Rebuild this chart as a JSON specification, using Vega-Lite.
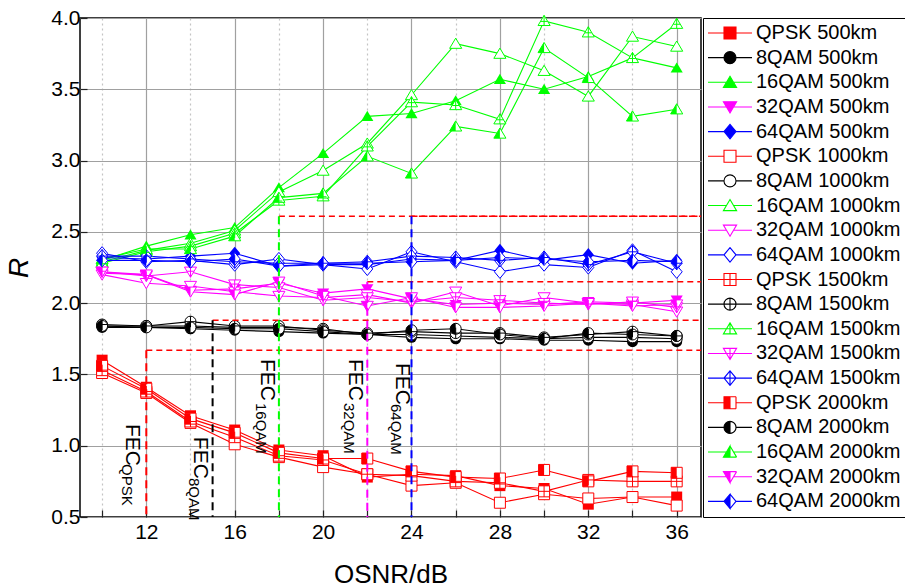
{
"$schema":"https://vega.github.io/schema/vega-lite/v6.json",
"padding":{"left":5,"top":7,"right":0,"bottom":0},
"background":"white",
"config":{"view":{"stroke":"#000000","strokeWidth":1.5},"font":"Liberation Sans",
 "legend":{"orient":"right","offset":2,"padding":5,"rowPadding":4.65,"labelFont":"Liberation Sans","labelFontSize":20,"labelColor":"#000000","labelOffset":16,"symbolOffset":12,"symbolSize":144,"symbolStrokeWidth":1.1,"symbolOpacity":1,"symbolFillColor":"#ffffff","strokeColor":"#000000","fillColor":"#ffffff","labelLimit":400}},
"datasets":{
"pts":[
{"mod":"QPSK","dist":500,"x":10,"R":1.60},{"mod":"QPSK","dist":500,"x":12,"R":1.41},{"mod":"QPSK","dist":500,"x":14,"R":1.21},{"mod":"QPSK","dist":500,"x":16,"R":1.11},{"mod":"QPSK","dist":500,"x":18,"R":0.97},{"mod":"QPSK","dist":500,"x":20,"R":0.93},{"mod":"QPSK","dist":500,"x":22,"R":0.78},{"mod":"QPSK","dist":500,"x":24,"R":0.80},{"mod":"QPSK","dist":500,"x":26,"R":0.79},{"mod":"QPSK","dist":500,"x":28,"R":0.72},{"mod":"QPSK","dist":500,"x":30,"R":0.70},{"mod":"QPSK","dist":500,"x":32,"R":0.59},{"mod":"QPSK","dist":500,"x":34,"R":0.64},{"mod":"QPSK","dist":500,"x":36,"R":0.64},
{"mod":"QPSK","dist":1000,"x":10,"R":1.51},{"mod":"QPSK","dist":1000,"x":12,"R":1.37},{"mod":"QPSK","dist":1000,"x":14,"R":1.16},{"mod":"QPSK","dist":1000,"x":16,"R":1.01},{"mod":"QPSK","dist":1000,"x":18,"R":0.92},{"mod":"QPSK","dist":1000,"x":20,"R":0.85},{"mod":"QPSK","dist":1000,"x":22,"R":0.80},{"mod":"QPSK","dist":1000,"x":24,"R":0.72},{"mod":"QPSK","dist":1000,"x":26,"R":0.74},{"mod":"QPSK","dist":1000,"x":28,"R":0.60},{"mod":"QPSK","dist":1000,"x":30,"R":0.66},{"mod":"QPSK","dist":1000,"x":32,"R":0.63},{"mod":"QPSK","dist":1000,"x":34,"R":0.64},{"mod":"QPSK","dist":1000,"x":36,"R":0.58},
{"mod":"QPSK","dist":1500,"x":10,"R":1.53},{"mod":"QPSK","dist":1500,"x":12,"R":1.38},{"mod":"QPSK","dist":1500,"x":14,"R":1.17},{"mod":"QPSK","dist":1500,"x":16,"R":1.06},{"mod":"QPSK","dist":1500,"x":18,"R":0.93},{"mod":"QPSK","dist":1500,"x":20,"R":0.90},{"mod":"QPSK","dist":1500,"x":22,"R":0.80},{"mod":"QPSK","dist":1500,"x":24,"R":0.79},{"mod":"QPSK","dist":1500,"x":26,"R":0.75},{"mod":"QPSK","dist":1500,"x":28,"R":0.74},{"mod":"QPSK","dist":1500,"x":30,"R":0.68},{"mod":"QPSK","dist":1500,"x":32,"R":0.76},{"mod":"QPSK","dist":1500,"x":34,"R":0.75},{"mod":"QPSK","dist":1500,"x":36,"R":0.75},
{"mod":"QPSK","dist":2000,"x":10,"R":1.56},{"mod":"QPSK","dist":2000,"x":12,"R":1.40},{"mod":"QPSK","dist":2000,"x":14,"R":1.19},{"mod":"QPSK","dist":2000,"x":16,"R":1.09},{"mod":"QPSK","dist":2000,"x":18,"R":0.95},{"mod":"QPSK","dist":2000,"x":20,"R":0.91},{"mod":"QPSK","dist":2000,"x":22,"R":0.91},{"mod":"QPSK","dist":2000,"x":24,"R":0.82},{"mod":"QPSK","dist":2000,"x":26,"R":0.78},{"mod":"QPSK","dist":2000,"x":28,"R":0.77},{"mod":"QPSK","dist":2000,"x":30,"R":0.83},{"mod":"QPSK","dist":2000,"x":32,"R":0.75},{"mod":"QPSK","dist":2000,"x":34,"R":0.82},{"mod":"QPSK","dist":2000,"x":36,"R":0.81},
{"mod":"8QAM","dist":500,"x":10,"R":1.83},{"mod":"8QAM","dist":500,"x":12,"R":1.83},{"mod":"8QAM","dist":500,"x":14,"R":1.82},{"mod":"8QAM","dist":500,"x":16,"R":1.81},{"mod":"8QAM","dist":500,"x":18,"R":1.80},{"mod":"8QAM","dist":500,"x":20,"R":1.79},{"mod":"8QAM","dist":500,"x":22,"R":1.78},{"mod":"8QAM","dist":500,"x":24,"R":1.76},{"mod":"8QAM","dist":500,"x":26,"R":1.75},{"mod":"8QAM","dist":500,"x":28,"R":1.75},{"mod":"8QAM","dist":500,"x":30,"R":1.74},{"mod":"8QAM","dist":500,"x":32,"R":1.74},{"mod":"8QAM","dist":500,"x":34,"R":1.73},{"mod":"8QAM","dist":500,"x":36,"R":1.73},
{"mod":"8QAM","dist":1000,"x":10,"R":1.84},{"mod":"8QAM","dist":1000,"x":12,"R":1.84},{"mod":"8QAM","dist":1000,"x":14,"R":1.84},{"mod":"8QAM","dist":1000,"x":16,"R":1.83},{"mod":"8QAM","dist":1000,"x":18,"R":1.83},{"mod":"8QAM","dist":1000,"x":20,"R":1.82},{"mod":"8QAM","dist":1000,"x":22,"R":1.78},{"mod":"8QAM","dist":1000,"x":24,"R":1.78},{"mod":"8QAM","dist":1000,"x":26,"R":1.77},{"mod":"8QAM","dist":1000,"x":28,"R":1.76},{"mod":"8QAM","dist":1000,"x":30,"R":1.75},{"mod":"8QAM","dist":1000,"x":32,"R":1.76},{"mod":"8QAM","dist":1000,"x":34,"R":1.76},{"mod":"8QAM","dist":1000,"x":36,"R":1.75},
{"mod":"8QAM","dist":1500,"x":10,"R":1.85},{"mod":"8QAM","dist":1500,"x":12,"R":1.84},{"mod":"8QAM","dist":1500,"x":14,"R":1.87},{"mod":"8QAM","dist":1500,"x":16,"R":1.84},{"mod":"8QAM","dist":1500,"x":18,"R":1.84},{"mod":"8QAM","dist":1500,"x":20,"R":1.81},{"mod":"8QAM","dist":1500,"x":22,"R":1.79},{"mod":"8QAM","dist":1500,"x":24,"R":1.80},{"mod":"8QAM","dist":1500,"x":26,"R":1.79},{"mod":"8QAM","dist":1500,"x":28,"R":1.79},{"mod":"8QAM","dist":1500,"x":30,"R":1.76},{"mod":"8QAM","dist":1500,"x":32,"R":1.78},{"mod":"8QAM","dist":1500,"x":34,"R":1.80},{"mod":"8QAM","dist":1500,"x":36,"R":1.77},
{"mod":"8QAM","dist":2000,"x":10,"R":1.84},{"mod":"8QAM","dist":2000,"x":12,"R":1.83},{"mod":"8QAM","dist":2000,"x":14,"R":1.83},{"mod":"8QAM","dist":2000,"x":16,"R":1.82},{"mod":"8QAM","dist":2000,"x":18,"R":1.82},{"mod":"8QAM","dist":2000,"x":20,"R":1.80},{"mod":"8QAM","dist":2000,"x":22,"R":1.78},{"mod":"8QAM","dist":2000,"x":24,"R":1.81},{"mod":"8QAM","dist":2000,"x":26,"R":1.82},{"mod":"8QAM","dist":2000,"x":28,"R":1.78},{"mod":"8QAM","dist":2000,"x":30,"R":1.75},{"mod":"8QAM","dist":2000,"x":32,"R":1.79},{"mod":"8QAM","dist":2000,"x":34,"R":1.78},{"mod":"8QAM","dist":2000,"x":36,"R":1.77},
{"mod":"16QAM","dist":500,"x":10,"R":2.30},{"mod":"16QAM","dist":500,"x":12,"R":2.40},{"mod":"16QAM","dist":500,"x":14,"R":2.48},{"mod":"16QAM","dist":500,"x":16,"R":2.53},{"mod":"16QAM","dist":500,"x":18,"R":2.81},{"mod":"16QAM","dist":500,"x":20,"R":3.05},{"mod":"16QAM","dist":500,"x":22,"R":3.31},{"mod":"16QAM","dist":500,"x":24,"R":3.33},{"mod":"16QAM","dist":500,"x":26,"R":3.42},{"mod":"16QAM","dist":500,"x":28,"R":3.57},{"mod":"16QAM","dist":500,"x":30,"R":3.50},{"mod":"16QAM","dist":500,"x":32,"R":3.59},{"mod":"16QAM","dist":500,"x":34,"R":3.72},{"mod":"16QAM","dist":500,"x":36,"R":3.65},
{"mod":"16QAM","dist":1000,"x":10,"R":2.29},{"mod":"16QAM","dist":1000,"x":12,"R":2.37},{"mod":"16QAM","dist":1000,"x":14,"R":2.42},{"mod":"16QAM","dist":1000,"x":16,"R":2.51},{"mod":"16QAM","dist":1000,"x":18,"R":2.78},{"mod":"16QAM","dist":1000,"x":20,"R":2.93},{"mod":"16QAM","dist":1000,"x":22,"R":3.12},{"mod":"16QAM","dist":1000,"x":24,"R":3.46},{"mod":"16QAM","dist":1000,"x":26,"R":3.82},{"mod":"16QAM","dist":1000,"x":28,"R":3.75},{"mod":"16QAM","dist":1000,"x":30,"R":3.63},{"mod":"16QAM","dist":1000,"x":32,"R":3.45},{"mod":"16QAM","dist":1000,"x":34,"R":3.87},{"mod":"16QAM","dist":1000,"x":36,"R":3.80},
{"mod":"16QAM","dist":1500,"x":10,"R":2.28},{"mod":"16QAM","dist":1500,"x":12,"R":2.36},{"mod":"16QAM","dist":1500,"x":14,"R":2.40},{"mod":"16QAM","dist":1500,"x":16,"R":2.49},{"mod":"16QAM","dist":1500,"x":18,"R":2.72},{"mod":"16QAM","dist":1500,"x":20,"R":2.75},{"mod":"16QAM","dist":1500,"x":22,"R":3.10},{"mod":"16QAM","dist":1500,"x":24,"R":3.41},{"mod":"16QAM","dist":1500,"x":26,"R":3.39},{"mod":"16QAM","dist":1500,"x":28,"R":3.29},{"mod":"16QAM","dist":1500,"x":30,"R":3.98},{"mod":"16QAM","dist":1500,"x":32,"R":3.90},{"mod":"16QAM","dist":1500,"x":34,"R":3.72},{"mod":"16QAM","dist":1500,"x":36,"R":3.96},
{"mod":"16QAM","dist":2000,"x":10,"R":2.31},{"mod":"16QAM","dist":2000,"x":12,"R":2.38},{"mod":"16QAM","dist":2000,"x":14,"R":2.38},{"mod":"16QAM","dist":2000,"x":16,"R":2.47},{"mod":"16QAM","dist":2000,"x":18,"R":2.74},{"mod":"16QAM","dist":2000,"x":20,"R":2.77},{"mod":"16QAM","dist":2000,"x":22,"R":3.03},{"mod":"16QAM","dist":2000,"x":24,"R":2.91},{"mod":"16QAM","dist":2000,"x":26,"R":3.24},{"mod":"16QAM","dist":2000,"x":28,"R":3.19},{"mod":"16QAM","dist":2000,"x":30,"R":3.79},{"mod":"16QAM","dist":2000,"x":32,"R":3.58},{"mod":"16QAM","dist":2000,"x":34,"R":3.31},{"mod":"16QAM","dist":2000,"x":36,"R":3.36},
{"mod":"32QAM","dist":500,"x":10,"R":2.21},{"mod":"32QAM","dist":500,"x":12,"R":2.20},{"mod":"32QAM","dist":500,"x":14,"R":2.09},{"mod":"32QAM","dist":500,"x":16,"R":2.10},{"mod":"32QAM","dist":500,"x":18,"R":2.14},{"mod":"32QAM","dist":500,"x":20,"R":2.07},{"mod":"32QAM","dist":500,"x":22,"R":2.10},{"mod":"32QAM","dist":500,"x":24,"R":2.03},{"mod":"32QAM","dist":500,"x":26,"R":1.99},{"mod":"32QAM","dist":500,"x":28,"R":2.00},{"mod":"32QAM","dist":500,"x":30,"R":1.99},{"mod":"32QAM","dist":500,"x":32,"R":2.01},{"mod":"32QAM","dist":500,"x":34,"R":2.00},{"mod":"32QAM","dist":500,"x":36,"R":2.02},
{"mod":"32QAM","dist":1000,"x":10,"R":2.20},{"mod":"32QAM","dist":1000,"x":12,"R":2.14},{"mod":"32QAM","dist":1000,"x":14,"R":2.12},{"mod":"32QAM","dist":1000,"x":16,"R":2.08},{"mod":"32QAM","dist":1000,"x":18,"R":2.05},{"mod":"32QAM","dist":1000,"x":20,"R":2.04},{"mod":"32QAM","dist":1000,"x":22,"R":2.06},{"mod":"32QAM","dist":1000,"x":24,"R":2.00},{"mod":"32QAM","dist":1000,"x":26,"R":2.08},{"mod":"32QAM","dist":1000,"x":28,"R":1.98},{"mod":"32QAM","dist":1000,"x":30,"R":2.04},{"mod":"32QAM","dist":1000,"x":32,"R":2.00},{"mod":"32QAM","dist":1000,"x":34,"R":1.99},{"mod":"32QAM","dist":1000,"x":36,"R":1.94},
{"mod":"32QAM","dist":1500,"x":10,"R":2.22},{"mod":"32QAM","dist":1500,"x":12,"R":2.19},{"mod":"32QAM","dist":1500,"x":14,"R":2.22},{"mod":"32QAM","dist":1500,"x":16,"R":2.13},{"mod":"32QAM","dist":1500,"x":18,"R":2.11},{"mod":"32QAM","dist":1500,"x":20,"R":2.02},{"mod":"32QAM","dist":1500,"x":22,"R":2.04},{"mod":"32QAM","dist":1500,"x":24,"R":2.01},{"mod":"32QAM","dist":1500,"x":26,"R":2.04},{"mod":"32QAM","dist":1500,"x":28,"R":2.02},{"mod":"32QAM","dist":1500,"x":30,"R":2.00},{"mod":"32QAM","dist":1500,"x":32,"R":1.99},{"mod":"32QAM","dist":1500,"x":34,"R":2.01},{"mod":"32QAM","dist":1500,"x":36,"R":1.97},
{"mod":"32QAM","dist":2000,"x":10,"R":2.22},{"mod":"32QAM","dist":2000,"x":12,"R":2.20},{"mod":"32QAM","dist":2000,"x":14,"R":2.08},{"mod":"32QAM","dist":2000,"x":16,"R":2.06},{"mod":"32QAM","dist":2000,"x":18,"R":2.15},{"mod":"32QAM","dist":2000,"x":20,"R":2.05},{"mod":"32QAM","dist":2000,"x":22,"R":1.98},{"mod":"32QAM","dist":2000,"x":24,"R":2.04},{"mod":"32QAM","dist":2000,"x":26,"R":1.97},{"mod":"32QAM","dist":2000,"x":28,"R":1.97},{"mod":"32QAM","dist":2000,"x":30,"R":1.98},{"mod":"32QAM","dist":2000,"x":32,"R":2.00},{"mod":"32QAM","dist":2000,"x":34,"R":1.98},{"mod":"32QAM","dist":2000,"x":36,"R":1.99},
{"mod":"64QAM","dist":500,"x":10,"R":2.32},{"mod":"64QAM","dist":500,"x":12,"R":2.31},{"mod":"64QAM","dist":500,"x":14,"R":2.33},{"mod":"64QAM","dist":500,"x":16,"R":2.35},{"mod":"64QAM","dist":500,"x":18,"R":2.26},{"mod":"64QAM","dist":500,"x":20,"R":2.27},{"mod":"64QAM","dist":500,"x":22,"R":2.27},{"mod":"64QAM","dist":500,"x":24,"R":2.31},{"mod":"64QAM","dist":500,"x":26,"R":2.30},{"mod":"64QAM","dist":500,"x":28,"R":2.37},{"mod":"64QAM","dist":500,"x":30,"R":2.30},{"mod":"64QAM","dist":500,"x":32,"R":2.34},{"mod":"64QAM","dist":500,"x":34,"R":2.28},{"mod":"64QAM","dist":500,"x":36,"R":2.30},
{"mod":"64QAM","dist":1000,"x":10,"R":2.35},{"mod":"64QAM","dist":1000,"x":12,"R":2.29},{"mod":"64QAM","dist":1000,"x":14,"R":2.30},{"mod":"64QAM","dist":1000,"x":16,"R":2.27},{"mod":"64QAM","dist":1000,"x":18,"R":2.31},{"mod":"64QAM","dist":1000,"x":20,"R":2.27},{"mod":"64QAM","dist":1000,"x":22,"R":2.24},{"mod":"64QAM","dist":1000,"x":24,"R":2.36},{"mod":"64QAM","dist":1000,"x":26,"R":2.29},{"mod":"64QAM","dist":1000,"x":28,"R":2.22},{"mod":"64QAM","dist":1000,"x":30,"R":2.27},{"mod":"64QAM","dist":1000,"x":32,"R":2.25},{"mod":"64QAM","dist":1000,"x":34,"R":2.37},{"mod":"64QAM","dist":1000,"x":36,"R":2.22},
{"mod":"64QAM","dist":1500,"x":10,"R":2.33},{"mod":"64QAM","dist":1500,"x":12,"R":2.33},{"mod":"64QAM","dist":1500,"x":14,"R":2.31},{"mod":"64QAM","dist":1500,"x":16,"R":2.29},{"mod":"64QAM","dist":1500,"x":18,"R":2.28},{"mod":"64QAM","dist":1500,"x":20,"R":2.28},{"mod":"64QAM","dist":1500,"x":22,"R":2.29},{"mod":"64QAM","dist":1500,"x":24,"R":2.33},{"mod":"64QAM","dist":1500,"x":26,"R":2.32},{"mod":"64QAM","dist":1500,"x":28,"R":2.30},{"mod":"64QAM","dist":1500,"x":30,"R":2.32},{"mod":"64QAM","dist":1500,"x":32,"R":2.27},{"mod":"64QAM","dist":1500,"x":34,"R":2.36},{"mod":"64QAM","dist":1500,"x":36,"R":2.28},
{"mod":"64QAM","dist":2000,"x":10,"R":2.30},{"mod":"64QAM","dist":2000,"x":12,"R":2.30},{"mod":"64QAM","dist":2000,"x":14,"R":2.29},{"mod":"64QAM","dist":2000,"x":16,"R":2.31},{"mod":"64QAM","dist":2000,"x":18,"R":2.26},{"mod":"64QAM","dist":2000,"x":20,"R":2.28},{"mod":"64QAM","dist":2000,"x":22,"R":2.28},{"mod":"64QAM","dist":2000,"x":24,"R":2.29},{"mod":"64QAM","dist":2000,"x":26,"R":2.30},{"mod":"64QAM","dist":2000,"x":28,"R":2.32},{"mod":"64QAM","dist":2000,"x":30,"R":2.31},{"mod":"64QAM","dist":2000,"x":32,"R":2.29},{"mod":"64QAM","dist":2000,"x":34,"R":2.30},{"mod":"64QAM","dist":2000,"x":36,"R":2.29}
],
"fec":[{"mod":"QPSK","x":12,"thr":1.67},{"mod":"8QAM","x":15,"thr":1.88},{"mod":"16QAM","x":18,"thr":2.61},{"mod":"32QAM","x":22,"thr":2.15},{"mod":"64QAM","x":24,"thr":2.61}],
"fect":[
{"main":"FEC","sub":"QPSK","mx":11.08,"my":1.153,"sx":10.9,"sy":0.872},
{"main":"FEC","sub":"8QAM","mx":14.15,"my":1.062,"sx":13.93,"sy":0.774},
{"main":"FEC","sub":"16QAM","mx":17.18,"my":1.609,"sx":16.96,"sy":1.3},
{"main":"FEC","sub":"32QAM","mx":21.16,"my":1.609,"sx":20.93,"sy":1.3},
{"main":"FEC","sub":"64QAM","mx":23.29,"my":1.581,"sx":23.06,"sy":1.293}],
"leg":[
{"idx":1,"label":"QPSK 500km"},{"idx":2,"label":"8QAM 500km"},{"idx":3,"label":"16QAM 500km"},{"idx":4,"label":"32QAM 500km"},{"idx":5,"label":"64QAM 500km"},
{"idx":6,"label":"QPSK 1000km"},{"idx":7,"label":"8QAM 1000km"},{"idx":8,"label":"16QAM 1000km"},{"idx":9,"label":"32QAM 1000km"},{"idx":10,"label":"64QAM 1000km"},
{"idx":11,"label":"QPSK 1500km"},{"idx":12,"label":"8QAM 1500km"},{"idx":13,"label":"16QAM 1500km"},{"idx":14,"label":"32QAM 1500km"},{"idx":15,"label":"64QAM 1500km"},
{"idx":16,"label":"QPSK 2000km"},{"idx":17,"label":"8QAM 2000km"},{"idx":18,"label":"16QAM 2000km"},{"idx":19,"label":"32QAM 2000km"},{"idx":20,"label":"64QAM 2000km"}]
},
"width":621,"height":499,
"data":{"name":"pts"},
"layer":[
{"mark":{"type":"line","strokeWidth":1.1},
 "encoding":{
  "x":{"field":"x","type":"quantitative","scale":{"domain":[9,37.1],"nice":false,"zero":false},
   "axis":{"title":"OSNR/dB","values":[10,12,14,16,18,20,22,24,26,28,30,32,34,36],
    "labelExpr":"datum.value % 4 == 0 ? datum.label : ''","labelOverlap":false,"labelFlush":false,
    "labelFont":"Liberation Sans","labelFontSize":21,"labelColor":"#000000","labelPadding":11,
    "ticks":true,"tickSize":-7,"tickColor":"#222222","tickWidth":1.2,"domain":false,
    "grid":true,"gridWidth":1.2,
    "gridColor":{"condition":{"test":"datum.value % 4 == 0","value":"#a0a0a0"},"value":"#c4c4c4"},
    "gridDash":{"condition":{"test":"datum.value % 4 == 0","value":[]},"value":[2,3]},
    "titleFont":"Liberation Sans","titleFontSize":26,"titleFontWeight":"normal","titleColor":"#000000","titlePadding":19}},
  "y":{"field":"R","type":"quantitative","scale":{"domain":[0.5,4.0],"nice":false,"zero":false},
   "axis":{"title":"R","values":[0.5,0.75,1,1.25,1.5,1.75,2,2.25,2.5,2.75,3,3.25,3.5,3.75,4],
    "labelExpr":"abs(datum.value*2-round(datum.value*2)) < 0.01 ? format(datum.value, '.1f') : ''","labelOverlap":false,"labelFlush":false,
    "labelFont":"Liberation Sans","labelFontSize":21,"labelColor":"#000000","labelPadding":7,
    "ticks":true,"tickSize":-7,"tickColor":"#222222","tickWidth":1.2,"domain":false,
    "grid":true,"gridWidth":1.2,
    "gridColor":{"condition":{"test":"abs(datum.value*2-round(datum.value*2)) < 0.01","value":"#a0a0a0"},"value":"#c4c4c4"},
    "gridDash":{"condition":{"test":"abs(datum.value*2-round(datum.value*2)) < 0.01","value":[]},"value":[2,3]},
    "titleFont":"Liberation Sans","titleFontSize":28,"titleFontWeight":"normal","titleFontStyle":"italic","titleColor":"#000000","titlePadding":17}},
  "color":{"field":"mod","type":"nominal","scale":{"domain":["QPSK","8QAM","16QAM","32QAM","64QAM"],"range":["#ff0000","#000000","#00ff00","#ff00ff","#0000ff"]},"legend":null},
  "detail":{"field":"dist","type":"nominal"},
  "order":{"field":"x","type":"quantitative"}
 }},
{"transform":[{"filter":"datum.dist == 500"}],
 "mark":{"type":"point","filled":true,"size":121,"opacity":1},
 "encoding":{"x":{"field":"x","type":"quantitative"},"y":{"field":"R","type":"quantitative"},
  "color":{"field":"mod","type":"nominal","legend":null},
  "shape":{"condition":[{"test":"datum.mod == 'QPSK'","value":"M-1,-1H1V1H-1Z"},{"test":"datum.mod == '8QAM'","value":"circle"},{"test":"datum.mod == '16QAM'","value":"M0,-1L1.1,0.85H-1.1Z"},{"test":"datum.mod == '32QAM'","value":"M0,1L1.1,-0.85H-1.1Z"}],"value":"M0,-1.2L1,0L0,1.2L-1,0Z"}}},
{"transform":[{"filter":"datum.dist != 500"}],
 "mark":{"type":"point","filled":false,"fill":"#ffffff","size":121,"opacity":1,"strokeWidth":1},
 "encoding":{"x":{"field":"x","type":"quantitative"},"y":{"field":"R","type":"quantitative"},
  "color":{"field":"mod","type":"nominal","legend":null},
  "shape":{"condition":[{"test":"datum.mod == 'QPSK'","value":"M-1,-1H1V1H-1Z"},{"test":"datum.mod == '8QAM'","value":"circle"},{"test":"datum.mod == '16QAM'","value":"M0,-1L1.1,0.85H-1.1Z"},{"test":"datum.mod == '32QAM'","value":"M0,1L1.1,-0.85H-1.1Z"}],"value":"M0,-1.2L1,0L0,1.2L-1,0Z"}}},
{"transform":[{"filter":"datum.dist == 1500"}],
 "mark":{"type":"point","filled":false,"size":121,"opacity":1,"strokeWidth":1},
 "encoding":{"x":{"field":"x","type":"quantitative"},"y":{"field":"R","type":"quantitative"},
  "color":{"field":"mod","type":"nominal","legend":null},
  "shape":{"condition":[{"test":"datum.mod == 'QPSK'","value":"M0,-1V1M-1,0H1"},{"test":"datum.mod == '8QAM'","value":"M0,-1V1M-1,0H1"},{"test":"datum.mod == '16QAM'","value":"M0,-1V0.85M-0.62,0.1H0.62"},{"test":"datum.mod == '32QAM'","value":"M0,1V-0.85M-0.62,-0.1H0.62"}],"value":"M0,-1.2V1.2M-1,0H1"}}},
{"transform":[{"filter":"datum.dist == 2000"}],
 "mark":{"type":"point","filled":true,"size":121,"opacity":1},
 "encoding":{"x":{"field":"x","type":"quantitative"},"y":{"field":"R","type":"quantitative"},
  "color":{"field":"mod","type":"nominal","legend":null},
  "shape":{"condition":[{"test":"datum.mod == 'QPSK'","value":"M-1,-1H0V1H-1Z"},{"test":"datum.mod == '8QAM'","value":"M0,-1A1,1,0,0,0,0,1Z"},{"test":"datum.mod == '16QAM'","value":"M0,-1L0,0.85H-1.1Z"},{"test":"datum.mod == '32QAM'","value":"M0,1L0,-0.85H-1.1Z"}],"value":"M0,-1.2L0,1.2L-1,0Z"}}},
{"data":{"name":"fec"},
 "mark":{"type":"rule","stroke":"#ff0000","strokeWidth":1.5,"strokeDash":[6,4]},
 "encoding":{"x":{"field":"x","type":"quantitative"},"x2":{"value":"width"},"y":{"field":"thr","type":"quantitative"}}},
{"data":{"name":"fec"},
 "mark":{"type":"rule","strokeWidth":2,"strokeDash":[8,5]},
 "encoding":{"x":{"field":"x","type":"quantitative"},"y":{"field":"thr","type":"quantitative"},"y2":{"value":"height"},
  "color":{"field":"mod","type":"nominal","legend":null}}},
{"data":{"name":"fect"},
 "mark":{"type":"text","angle":90,"align":"left","baseline":"alphabetic","font":"Liberation Sans","fontSize":21,"color":"#000000"},
 "encoding":{"x":{"field":"mx","type":"quantitative"},"y":{"field":"my","type":"quantitative"},"text":{"field":"main","type":"nominal"}}},
{"data":{"name":"fect"},
 "mark":{"type":"text","angle":90,"align":"left","baseline":"alphabetic","font":"Liberation Sans","fontSize":15,"color":"#000000"},
 "encoding":{"x":{"field":"sx","type":"quantitative"},"y":{"field":"sy","type":"quantitative"},"text":{"field":"sub","type":"nominal"}}},
{"data":{"name":"leg"},
 "mark":{"type":"point","filled":true,"opacity":0,"size":144},
 "encoding":{
  "shape":{"field":"label","type":"nominal","legend":{"title":null},"scale":{
   "domain":["QPSK 500km","8QAM 500km","16QAM 500km","32QAM 500km","64QAM 500km","QPSK 1000km","8QAM 1000km","16QAM 1000km","32QAM 1000km","64QAM 1000km","QPSK 1500km","8QAM 1500km","16QAM 1500km","32QAM 1500km","64QAM 1500km","QPSK 2000km","8QAM 2000km","16QAM 2000km","32QAM 2000km","64QAM 2000km"],
   "range":[
    "M-3.67,0H-1M1,0H3.67M-1,-1H1V1H-1Z",
    "M-3.67,0H-1M1,0H3.67M1,0A1,1,0,1,1,-1,0A1,1,0,1,1,1,0Z",
    "M-3.67,0H-0.6M0.6,0H3.67M0,-1L1.1,0.85H-1.1Z",
    "M-3.67,0H-0.6M0.6,0H3.67M0,1L1.1,-0.85H-1.1Z",
    "M-3.67,0H-1M1,0H3.67M0,-1.2L1,0L0,1.2L-1,0Z",
    "M-3.67,0H-1M1,0H3.67M-1,-1H1V1H-1Z",
    "M-3.67,0H-1M1,0H3.67M1,0A1,1,0,1,1,-1,0A1,1,0,1,1,1,0Z",
    "M-3.67,0H-0.6M0.6,0H3.67M0,-1L1.1,0.85H-1.1Z",
    "M-3.67,0H-0.6M0.6,0H3.67M0,1L1.1,-0.85H-1.1Z",
    "M-3.67,0H-1M1,0H3.67M0,-1.2L1,0L0,1.2L-1,0Z",
    "M-3.67,0H3.67M-1,-1H1V1H-1ZM0,-1V1",
    "M-3.67,0H3.67M1,0A1,1,0,1,1,-1,0A1,1,0,1,1,1,0ZM0,-1V1",
    "M-3.67,0H3.67M0,-1L1.1,0.85H-1.1ZM0,-1V0.85",
    "M-3.67,0H3.67M0,1L1.1,-0.85H-1.1ZM0,1V-0.85",
    "M-3.67,0H3.67M0,-1.2L1,0L0,1.2L-1,0ZM0,-1.2V1.2",
    "M-3.67,0H-1M1,0H3.67M-1,-1H0V1H-1ZM0,-1H1M1,-1V1M1,1H0",
    "M-3.67,0H-1M1,0H3.67M0,-1A1,1,0,0,0,0,1ZM0,-1A1,1,0,0,1,0.5,-0.866M0.5,-0.866A1,1,0,0,1,0.866,-0.5M0.866,-0.5A1,1,0,0,1,1,0M1,0A1,1,0,0,1,0.866,0.5M0.866,0.5A1,1,0,0,1,0.5,0.866M0.5,0.866A1,1,0,0,1,0,1",
    "M-3.67,0H-0.6M0.6,0H3.67M0,-1L0,0.85H-1.1ZM0,-1L1.1,0.85M1.1,0.85H0",
    "M-3.67,0H-0.6M0.6,0H3.67M0,1L0,-0.85H-1.1ZM0,1L1.1,-0.85M1.1,-0.85H0",
    "M-3.67,0H-1M1,0H3.67M0,-1.2L0,1.2L-1,0ZM0,-1.2L1,0M1,0L0,1.2"]}},
  "fill":{"field":"label","type":"nominal","legend":{"title":null},"scale":{
   "domain":["QPSK 500km","8QAM 500km","16QAM 500km","32QAM 500km","64QAM 500km","QPSK 1000km","8QAM 1000km","16QAM 1000km","32QAM 1000km","64QAM 1000km","QPSK 1500km","8QAM 1500km","16QAM 1500km","32QAM 1500km","64QAM 1500km","QPSK 2000km","8QAM 2000km","16QAM 2000km","32QAM 2000km","64QAM 2000km"],
   "range":["#ff0000","#000000","#00ff00","#ff00ff","#0000ff","#ffffff","#ffffff","#ffffff","#ffffff","#ffffff","#ffffff","#ffffff","#ffffff","#ffffff","#ffffff","#ff0000","#000000","#00ff00","#ff00ff","#0000ff"]}},
  "stroke":{"field":"label","type":"nominal","legend":{"title":null},"scale":{
   "domain":["QPSK 500km","8QAM 500km","16QAM 500km","32QAM 500km","64QAM 500km","QPSK 1000km","8QAM 1000km","16QAM 1000km","32QAM 1000km","64QAM 1000km","QPSK 1500km","8QAM 1500km","16QAM 1500km","32QAM 1500km","64QAM 1500km","QPSK 2000km","8QAM 2000km","16QAM 2000km","32QAM 2000km","64QAM 2000km"],
   "range":["#ff0000","#000000","#00ff00","#ff00ff","#0000ff","#ff0000","#000000","#00ff00","#ff00ff","#0000ff","#ff0000","#000000","#00ff00","#ff00ff","#0000ff","#ff0000","#000000","#00ff00","#ff00ff","#0000ff"]}}
 }}
]
}
